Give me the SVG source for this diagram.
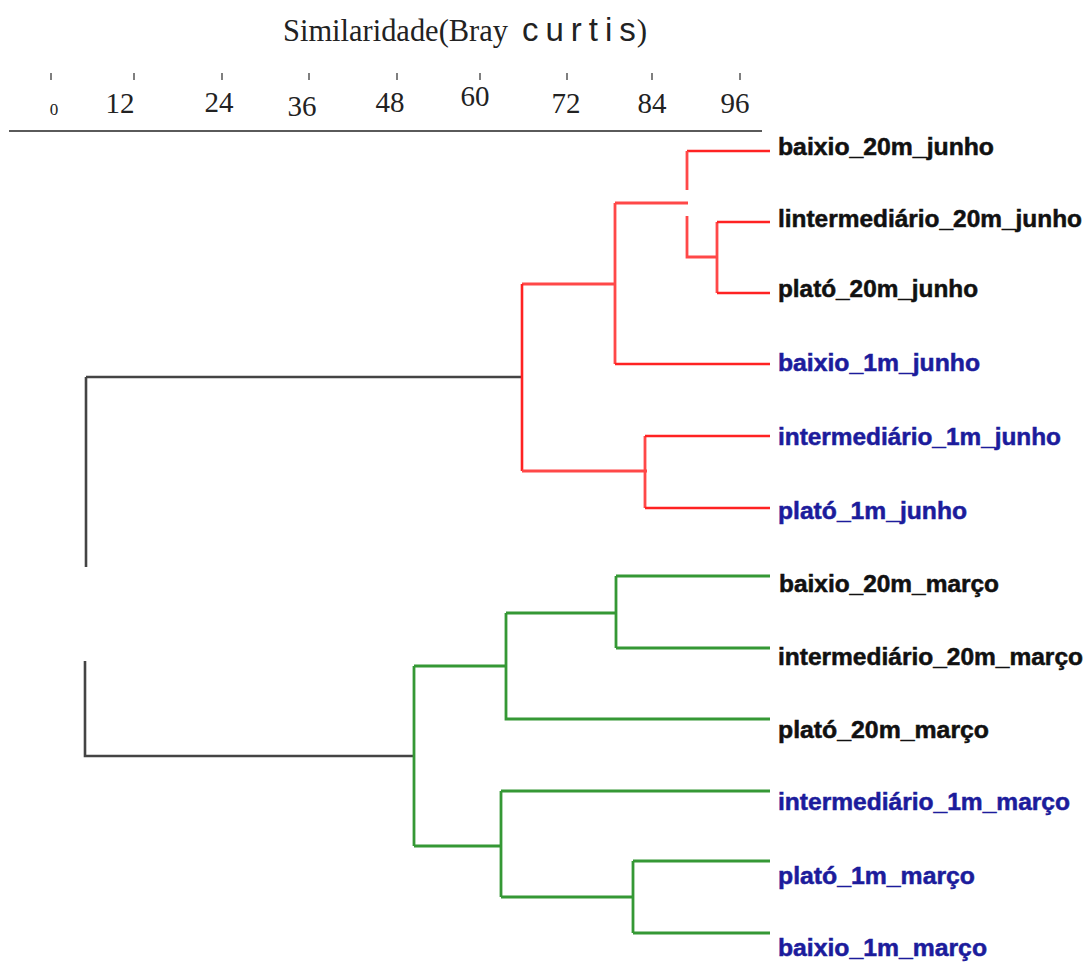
<svg xmlns="http://www.w3.org/2000/svg" width="1087" height="963" viewBox="0 0 1087 963">
  <style>
    .title { font-family: "Liberation Serif", "Times New Roman", serif; font-size: 31px; fill: #222; }
    .title-sans { font-family: "Liberation Sans", Arial, sans-serif; font-size: 33px; fill: #222; }
    .spaced { letter-spacing: 7px; }
    .paren { font-family: "Liberation Serif", "Times New Roman", serif; font-size: 31px; letter-spacing: 0; }
    .tick-label { font-family: "Liberation Serif", "Times New Roman", serif; font-size: 29px; fill: #222; text-anchor: middle; }
    .tick { stroke: #555; stroke-width: 1.5; }
    .axis { stroke: #5a5a5a; stroke-width: 2.2; fill: none; }
    .leaf { font-family: "Liberation Sans", Arial, sans-serif; font-weight: bold; font-size: 23px; stroke-width: 0.5; }
    .leaf.m20 { fill: #111; stroke: #111; }
    .leaf.m1 { fill: #1c1c9c; stroke: #1c1c9c; }
    .red { stroke: #ff2222; stroke-width: 2.6; fill: none; }
    .red-light { stroke: #ff4848; stroke-width: 2.8; fill: none; }
    .black { stroke: #444; stroke-width: 2.6; fill: none; }
    .green { stroke: #359835; stroke-width: 2.8; fill: none; }
  </style>

  <rect width="1087" height="963" fill="#ffffff"/>

  <!-- similarity axis -->
  <g id="axis">
    <text class="title" x="283" y="41" textLength="225" lengthAdjust="spacingAndGlyphs">Similaridade(Bray</text>
    <text class="title-sans" x="522" y="41"><tspan class="spaced">curti</tspan><tspan>s</tspan><tspan class="paren" dx="1">)</tspan></text>

    <line class="tick" x1="51" y1="73" x2="51" y2="80"/>
    <line class="tick" x1="134" y1="73" x2="134" y2="80"/>
    <line class="tick" x1="222" y1="73" x2="222" y2="80"/>
    <line class="tick" x1="309" y1="73" x2="309" y2="80"/>
    <line class="tick" x1="397" y1="73" x2="397" y2="80"/>
    <line class="tick" x1="480" y1="73" x2="480" y2="80"/>
    <line class="tick" x1="567" y1="73" x2="567" y2="80"/>
    <line class="tick" x1="652" y1="73" x2="652" y2="80"/>
    <line class="tick" x1="740" y1="73" x2="740" y2="80"/>

    <text class="tick-label" x="54" y="115" style="font-size:17px">0</text>
    <text class="tick-label" x="120" y="113">12</text>
    <text class="tick-label" x="219" y="112">24</text>
    <text class="tick-label" x="302" y="116">36</text>
    <text class="tick-label" x="390" y="112">48</text>
    <text class="tick-label" x="475" y="106">60</text>
    <text class="tick-label" x="566" y="113">72</text>
    <text class="tick-label" x="652" y="113">84</text>
    <text class="tick-label" x="735" y="113">96</text>

    <line class="axis" x1="9" y1="131" x2="762" y2="131"/>
  </g>

  <!-- dendrogram branches -->
  <g id="connectors">
    <!-- root -->
    <path class="black" d="M86,377 H522"/>
    <path class="black" d="M86,377 V567"/>
    <path class="black" d="M85,661 V756 H414"/>

    <!-- junho cluster -->
    <path class="red" d="M687,151 H770"/>
    <path class="red-light" d="M687,151 V190"/>
    <path class="red-light" d="M615,203 H688"/>
    <path class="red-light" d="M687,216 V257 H717"/>
    <path class="red-light" d="M717,222 V293"/>
    <path class="red" d="M717,222 H770"/>
    <path class="red" d="M717,293 H770"/>
    <path class="red-light" d="M615,203 V364"/>
    <path class="red" d="M615,364 H770"/>
    <path class="red-light" d="M522,284 H615"/>
    <path class="red" d="M522,284 V471"/>
    <path class="red-light" d="M522,471 H647"/>
    <path class="red-light" d="M645,436 V508"/>
    <path class="red" d="M645,436 H770"/>
    <path class="red" d="M645,508 H770"/>

    <!-- março cluster -->
    <path class="green" d="M414,666 V846"/>
    <path class="green" d="M414,666 H506"/>
    <path class="green" d="M506,613 V719 H770"/>
    <path class="green" d="M506,613 H616"/>
    <path class="green" d="M616,576 V648"/>
    <path class="green" d="M616,576 H770"/>
    <path class="green" d="M616,648 H770"/>
    <path class="green" d="M414,846 H501"/>
    <path class="green" d="M501,791 V897"/>
    <path class="green" d="M501,791 H770"/>
    <path class="green" d="M501,897 H633"/>
    <path class="green" d="M633,861 V933"/>
    <path class="green" d="M633,861 H770"/>
    <path class="green" d="M633,933 H770"/>
  </g>

  <!-- sample labels -->
  <g id="baixio_20m_junho"><text class="leaf m20" x="778" y="155" textLength="216" lengthAdjust="spacingAndGlyphs">baixio_20m_junho</text></g>
  <g id="intermediario_20m_junho"><text class="leaf m20" x="778" y="227" textLength="304" lengthAdjust="spacingAndGlyphs">lintermediário_20m_junho</text></g>
  <g id="plato_20m_junho"><text class="leaf m20" x="778" y="297" textLength="200" lengthAdjust="spacingAndGlyphs">plató_20m_junho</text></g>
  <g id="baixio_1m_junho"><text class="leaf m1" x="778" y="371" textLength="202" lengthAdjust="spacingAndGlyphs">baixio_1m_junho</text></g>
  <g id="intermediario_1m_junho"><text class="leaf m1" x="778" y="445" textLength="283" lengthAdjust="spacingAndGlyphs">intermediário_1m_junho</text></g>
  <g id="plato_1m_junho"><text class="leaf m1" x="778" y="519" textLength="189" lengthAdjust="spacingAndGlyphs">plató_1m_junho</text></g>
  <g id="baixio_20m_marco"><text class="leaf m20" x="779" y="592" textLength="220" lengthAdjust="spacingAndGlyphs">baixio_20m_março</text></g>
  <g id="intermediario_20m_marco"><text class="leaf m20" x="778" y="665" textLength="305" lengthAdjust="spacingAndGlyphs">intermediário_20m_março</text></g>
  <g id="plato_20m_marco"><text class="leaf m20" x="778" y="738" textLength="211" lengthAdjust="spacingAndGlyphs">plató_20m_março</text></g>
  <g id="intermediario_1m_marco"><text class="leaf m1" x="778" y="810" textLength="292" lengthAdjust="spacingAndGlyphs">intermediário_1m_março</text></g>
  <g id="plato_1m_marco"><text class="leaf m1" x="778" y="884" textLength="197" lengthAdjust="spacingAndGlyphs">plató_1m_março</text></g>
  <g id="baixio_1m_marco"><text class="leaf m1" x="778" y="956" textLength="209" lengthAdjust="spacingAndGlyphs">baixio_1m_março</text></g>
</svg>
